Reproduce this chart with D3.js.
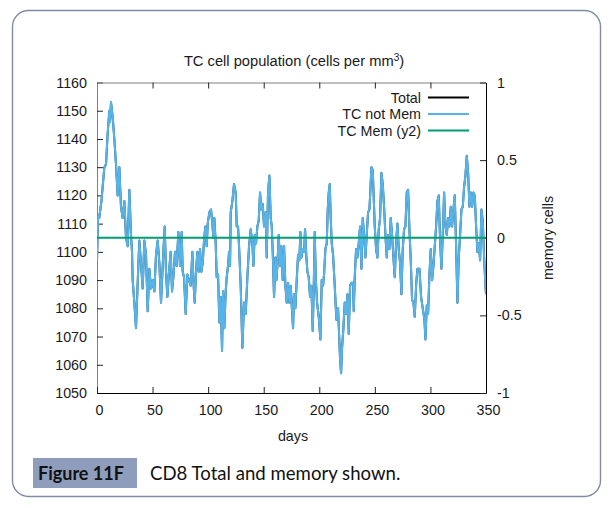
<!DOCTYPE html>
<html><head><meta charset="utf-8">
<script src="https://cdn.jsdelivr.net/npm/d3@7"></script>
<style>body{margin:0;background:#fff}svg{display:block}</style>
</head><body><svg id="c" width="616" height="508"></svg>
<script>
// ---- data ----
const days = [0,1,2,4,5.1,6.6,8.1,9.6,11.1,11.7,12.6,14.1,15.6,17.1,18.6,20.1,21.6,23.1,24.6,26.1,27.6,29.1,30.6,31.5,32.1,33.6,35.1,36.6,38.1,39.6,41.1,42.6,44.1,45.6,47.1,48.6,50.1,51.6,53.1,54.6,56.1,57.6,
59.7,60.9,62.1,63.3,64.8,66.3,67.5,68.7,70.2,71.7,73.2,74.7,76.2,77.1,78.3,79.8,81.3,82.8,84.3,85.8,86.7,87.9,89.1,90.3,91.5,92.7,93.9,95.1,96.3,97.5,98.7,99.6,101.1,102.6,103.8,104.7,105.6,106.8,107.7,108.9,110.1,111.3,112.5,113.4,114.6,115.8,
116.7,117.9,118.8,119.7,120.3,121.8,123.3,124.8,125.7,126.9,127.8,129.3,130.8,132.3,133.8,135.3,136.8,138.3,139.8,140.7,141.9,143.1,144.3,145.5,146.7,147.9,149.1,150.3,151.8,152.7,153.9,155.1,156.3,157.2,158.1,159.3,160.5,161.4,162.3,163.5,164.7,165.9,167.1,168.3,169.5,170.7,171.9,173.1,
174.3,175.5,176.4,177.3,178.5,179.7,180.9,182.1,183.0,183.9,185.1,186.3,187.2,188.4,189.3,190.5,191.7,192.9,194.1,195.0,195.9,196.8,198.0,199.5,201.0,202.2,203.4,204.3,205.5,206.7,207.6,208.5,209.4,210.3,211.2,212.4,213.9,215.4,216.9,217.8,218.7,219.6,220.5,221.7,222.9,224.1,225.3,226.5,227.7,228.9,230.4,
231.0,231.9,233.1,234.3,235.5,236.7,237.9,239.1,240.3,241.5,242.7,243.9,245.1,246.0,246.9,248.1,249.0,249.9,251.1,252.3,253.5,254.7,255.9,257.1,258.3,259.5,260.7,261.9,263.1,264.3,265.5,266.7,267.9,269.1,270.3,271.5,272.7,273.9,275.1,276.3,277.5,278.7,279.9,281.1,282.3,283.5,284.7,285.9,287.1,288.3,
290.1,291.6,293.1,294.6,295.5,296.7,297.9,299.1,300.3,301.5,302.7,303.9,305.1,306.3,307.5,308.7,309.9,311.1,312.3,313.5,314.7,315.9,317.1,318.3,319.5,320.7,321.9,323.1,324.3,325.5,326.7,327.9,329.1,330.3,331.5,332.7,333.9,335.1,336.3,337.5,338.7,339.9,341.1,342.3,343.5,344.7,345.9,347.1,348.3,349.5,350];
const tcNotMem = [1097,1113,1112,1118,1123,1130,1131,1142,1150,1146,1153,1148,1140,1131,1120,1130,1116,1112,1118,1105,1102,1122,1106,1100,1090,1082,1073,1089,1104,1096,1087,1104,1099,1079,1094,1087,1090,1086,1099,1104,1096,1082,
1100,1109,1093,1084,1093,1100,1086,1091,1100,1095,1107,1095,1107,1093,1091,1078,1092,1090,1088,1100,1090,1082,1093,1100,1093,1101,1093,1096,1104,1109,1102,1110,1114,1115,1110,1105,1112,1103,1091,1092,1075,1084,1065,1086,1073,1086,
1091,1095,1100,1095,1114,1118,1124,1121,1109,1109,1102,1088,1066,1082,1078,1091,1102,1108,1103,1095,1106,1103,1109,1111,1121,1115,1117,1109,1114,1098,1121,1127,1112,1109,1100,1084,1098,1090,1095,1106,1095,1102,1090,1102,1088,1082,1089,1082,
1088,1079,1073,1085,1080,1090,1099,1097,1107,1098,1101,1100,1108,1098,1093,1091,1084,1088,1072,1087,1107,1091,1082,1077,1069,1090,1088,1092,1101,1103,1115,1121,1124,1112,1103,1099,1088,1076,1080,1071,1062,1057,1066,1073,1082,1078,1085,1071,1088,1089,1089,
1079,1091,1101,1098,1103,1109,1094,1112,1106,1098,1106,1114,1115,1122,1130,1129,1119,1109,1101,1098,1108,1112,1128,1124,1116,1106,1098,1106,1101,1112,1106,1098,1091,1103,1110,1101,1096,1085,1101,1108,1109,1121,1122,1108,1097,1083,1082,1077,1088,1094,
1094,1084,1080,1076,1069,1081,1078,1092,1101,1090,1095,1102,1109,1118,1120,1104,1094,1106,1121,1109,1106,1112,1109,1116,1109,1115,1120,1102,1082,1098,1106,1115,1116,1123,1127,1134,1128,1116,1121,1116,1121,1120,1109,1100,1103,1097,1115,1111,1098,1088,1085];
// Total = TC not Mem + TC Mem (memory is zero throughout)
const totalCells = tcNotMem.slice();
const memDays = [0, 350];
const tcMem = [0, 0];
const xTicks = [0,50,100,150,200,250,300,350];
const yTicks = [1050,1060,1070,1080,1090,1100,1110,1120,1130,1140,1150,1160];
const y2Ticks = [-1,-0.5,0,0.5,1];
const legendLabels = ["Total","TC not Mem","TC Mem (y2)"];
const legendColors = ["#000000","#56b4e9","#009e73"];

// ---- drawing ----
const svg = d3.select("#c");
const L = 97, R = 486, T = 82.5, B = 393;
const FONT = "'Liberation Sans', Arial, sans-serif";
const FS = 14.3;
const TXT = "#1a1a1a";
const x = d3.scaleLinear().domain([0,350]).range([L,R]);
const y = d3.scaleLinear().domain([1050,1160]).range([B,T]);
const y2 = d3.scaleLinear().domain([-1,1]).range([B,T]);

svg.append("rect").attr("width",616).attr("height",508).attr("fill","#fff");
svg.append("rect").attr("x",12.5).attr("y",10.5).attr("width",588).attr("height",486)
  .attr("rx",16).attr("fill","none").attr("stroke","#7f8ca3").attr("stroke-width",1.4);

svg.append("defs").append("clipPath").attr("id","clip")
  .append("rect").attr("x",L).attr("y",T).attr("width",R-L).attr("height",B-T);

function styleAxis(g, domainColor){
  g.selectAll("text").attr("font-family",FONT).attr("font-size",FS).attr("fill",TXT);
  g.select(".domain").attr("stroke",domainColor).attr("stroke-width",1);
  g.selectAll(".tick line").attr("stroke","#222");
}
// left
const gl = svg.append("g").attr("transform",`translate(${L},0)`)
  .call(d3.axisLeft(y).tickValues(yTicks).tickSizeInner(-6).tickSizeOuter(0).tickPadding(10).tickFormat(d=>String(d)));
styleAxis(gl,"#808080");
// top (mirror ticks)
const gt = svg.append("g").attr("transform",`translate(0,${T})`)
  .call(d3.axisTop(x).tickValues(xTicks.slice(1,-1)).tickSizeInner(-6).tickSizeOuter(0).tickFormat(""));
styleAxis(gt,"#808080");
// bottom
const gb = svg.append("g").attr("transform",`translate(0,${B})`)
  .call(d3.axisBottom(x).tickValues(xTicks).tickSizeInner(-6).tickSizeOuter(0).tickPadding(12).tickFormat(d=>String(d)));
styleAxis(gb,"#000");
gb.selectAll("text").attr("dx",2);
// right (y2)
const gr = svg.append("g").attr("transform",`translate(${R},0)`)
  .call(d3.axisRight(y2).tickValues(y2Ticks).tickSizeInner(-6).tickSizeOuter(0).tickPadding(11).tickFormat(d=>String(d)));
styleAxis(gr,"#000");

// lines
const plot = svg.append("g").attr("clip-path","url(#clip)");
const idx = d3.range(days.length);
const lineY1 = vals => d3.line().x(i=>x(days[i])).y(i=>y(vals[i]));
plot.append("path").datum(idx).attr("d",lineY1(totalCells))
  .attr("fill","none").attr("stroke","#1f4f6e").attr("stroke-width",2.1).attr("stroke-linejoin","round");
plot.append("path").datum(idx).attr("d",lineY1(tcNotMem))
  .attr("fill","none").attr("stroke","#56b4e9").attr("stroke-width",2).attr("stroke-linejoin","round");
plot.append("path").datum(d3.range(memDays.length))
  .attr("d",d3.line().x(i=>x(memDays[i])).y(i=>y2(tcMem[i])))
  .attr("fill","none").attr("stroke","#009e73").attr("stroke-width",2);

// legend
const lg = svg.append("g");
legendLabels.forEach((lab,i)=>{
  const yy = 97.5 + i*16.5;
  lg.append("text").attr("x",421).attr("y",yy).attr("dy","0.35em").attr("text-anchor","end")
    .attr("font-family",FONT).attr("font-size",FS).attr("fill",TXT).text(lab);
  lg.append("line").attr("x1",428).attr("x2",469).attr("y1",yy).attr("y2",yy)
    .attr("stroke",legendColors[i]).attr("stroke-width",2.2);
});

// titles
const title = svg.append("text").attr("x",294).attr("y",66).attr("text-anchor","middle")
  .attr("font-family",FONT).attr("font-size",FS+0.4).attr("fill",TXT);
title.append("tspan").text("TC cell population (cells per mm");
title.append("tspan").attr("dy",-5).attr("font-size",10).text("3");
title.append("tspan").attr("dy",5).text(")");
svg.append("text").attr("x",293).attr("y",436).attr("dy","0.35em").attr("text-anchor","middle")
  .attr("font-family",FONT).attr("font-size",FS).attr("fill",TXT).text("days");
svg.append("text").attr("transform","translate(548,238) rotate(-90)").attr("dy","0.35em")
  .attr("text-anchor","middle").attr("font-family",FONT).attr("font-size",FS).attr("fill",TXT).text("memory cells");

// caption
svg.append("rect").attr("x",33).attr("y",458).attr("width",104).attr("height",30).attr("fill","#8e9dbc");
svg.append("text").attr("x",38).attr("y",479.5).attr("font-family","Lato, 'Open Sans', sans-serif")
  .attr("font-weight","bold").attr("font-size",18).attr("fill","#111").text("Figure 11F");
svg.append("text").attr("x",150).attr("y",479.5).attr("font-family","Lato, 'Open Sans', sans-serif")
  .attr("font-size",18.6).attr("fill","#111").text("CD8 Total and memory shown.");
</script></body></html>
